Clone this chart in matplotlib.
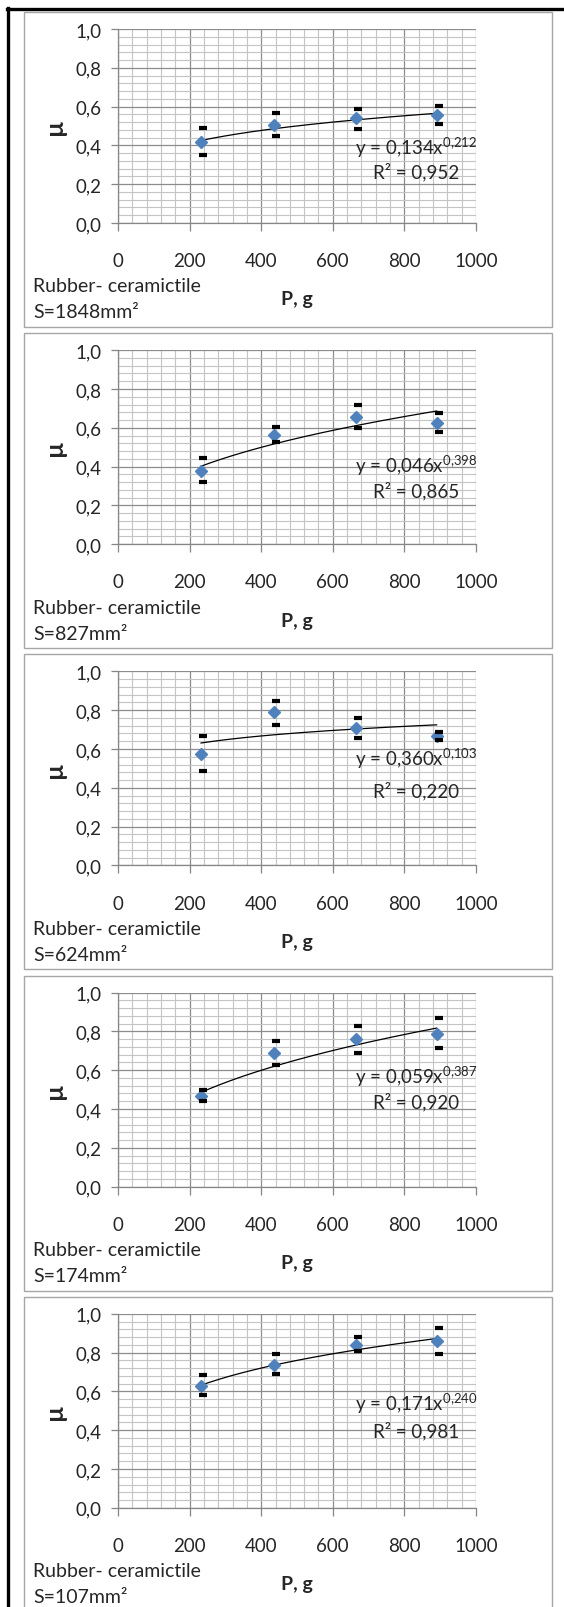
import matplotlib
matplotlib.use("Agg")
import matplotlib.pyplot as plt
from matplotlib.patches import Rectangle
from matplotlib.lines import Line2D
from matplotlib.transforms import ScaledTranslation
import numpy as np

plt.rcParams['font.family'] = ['Lato', 'DejaVu Sans']
plt.rcParams['mathtext.fontset'] = 'custom'
plt.rcParams['mathtext.rm'] = 'Lato'

# load P (g) and friction coefficient, one list per contact area
load = [232, 436, 665, 890]
areas = ['1848', '827', '624', '174', '107']
mu = [
    [0.416, 0.507, 0.540, 0.558],
    [0.377, 0.565, 0.656, 0.627],
    [0.576, 0.790, 0.707, 0.669],
    [0.467, 0.688, 0.760, 0.788],
    [0.628, 0.738, 0.840, 0.861],
]
mu_hi = [
    [0.488, 0.565, 0.589, 0.605],
    [0.442, 0.606, 0.720, 0.674],
    [0.669, 0.847, 0.759, 0.686],
    [0.497, 0.750, 0.829, 0.869],
    [0.683, 0.793, 0.878, 0.926],
]
mu_lo = [
    [0.350, 0.448, 0.486, 0.509],
    [0.321, 0.527, 0.601, 0.577],
    [0.486, 0.726, 0.657, 0.647],
    [0.441, 0.629, 0.691, 0.712],
    [0.581, 0.690, 0.806, 0.792],
]
# power trendline y = a * x^b and its R^2
fit_a = ['0,134', '0,046', '0,360', '0,059', '0,171']
fit_b = ['0,212', '0,398', '0,103', '0,387', '0,240']
fit_r2 = ['0,952', '0,865', '0,220', '0,920', '0,981']
# equation / R^2 label heights (data units)
eq_y = [0.393, 0.408, 0.555, 0.574, 0.540]
r2_y = [0.266, 0.278, 0.388, 0.440, 0.403]

W, H = 564, 1608
fig = plt.figure(figsize=(W / 100, H / 100), dpi=100)
ink = '#262626'


def fx(px):
    return px / W


def fy(py):
    return 1 - py / H


# outer black frame (left and top)
fig.add_artist(Line2D([fx(8), fx(8)], [fy(9), 0], color='black', lw=2.4))
fig.add_artist(Line2D([fx(7), 1], [fy(9.5), fy(9.5)], color='black', lw=2.4))

step = 321.2
for k in range(5):
    top = 30 + step * k
    bot = 224 + step * k
    # chart area border
    box_bot = min(bot + 104, H + 5)
    fig.add_artist(Rectangle((fx(24), fy(box_bot)), fx(552 - 24),
                             (box_bot - (top - 17)) / H,
                             transform=fig.transFigure, fill=False,
                             edgecolor='#a6a6a6', lw=1.0))

    ax = fig.add_axes([fx(118), fy(bot), fx(476 - 118), (bot - top) / H])
    ax.set_xlim(0, 1000)
    ax.set_ylim(0, 1)
    ax.set_xticks(np.arange(0, 1001, 200))
    ax.set_xticklabels([str(v) for v in range(0, 1001, 200)])
    ax.set_yticks(np.arange(0, 1.01, 0.2))
    ax.set_yticklabels(['0,0', '0,2', '0,4', '0,6', '0,8', '1,0'])
    ax.set_xticks(np.arange(0, 1001, 40), minor=True)
    ax.set_yticks(np.arange(0, 1.001, 0.04), minor=True)
    ax.grid(which='minor', color='#c4c4c4', lw=0.8)
    ax.grid(which='major', color='#8c8c8c', lw=0.9)
    ax.set_axisbelow(True)
    for s in ('top', 'right'):
        ax.spines[s].set_visible(False)
    for s in ('left', 'bottom'):
        ax.spines[s].set_color('#868686')
        ax.spines[s].set_linewidth(0.9)
    ax.tick_params(which='minor', length=0)
    ax.tick_params(axis='x', which='major', length=6, width=0.9, color='#868686',
                   pad=15, labelsize=13.5, labelcolor=ink)
    ax.tick_params(axis='y', which='major', length=5, width=0.9, color='#868686',
                   pad=7, labelsize=13.5, labelcolor=ink)

    # trendline from the fitted coefficients
    a = float(fit_a[k].replace(',', '.'))
    b = float(fit_b[k].replace(',', '.'))
    xs = np.linspace(load[0], load[-1], 200)
    ax.plot(xs, a * xs ** b, color='black', lw=0.9, zorder=3)

    ax.plot(load, mu[k], ls='none', marker='D', ms=6.5, color='#4f81bd',
            mec='#4f81bd', zorder=4)

    err = [np.array(mu[k]) - np.array(mu_lo[k]), np.array(mu_hi[k]) - np.array(mu[k])]
    shift = ScaledTranslation(2 / 100, 0, fig.dpi_scale_trans)
    ax.errorbar(load, mu[k], yerr=err, fmt='none', ecolor='black', elinewidth=0,
                capsize=2.6, capthick=3, zorder=5, transform=ax.transData + shift)

    ax.text(0.832, eq_y[k], 'y = ' + fit_a[k] + 'x$^{\\mathregular{' + fit_b[k].replace(',', '{,}') + '}}$',
            transform=ax.get_yaxis_transform(), ha='center', va='center',
            fontsize=13.5, color=ink, zorder=6)
    ax.text(0.832, r2_y[k], 'R² = ' + fit_r2[k], transform=ax.get_yaxis_transform(),
            ha='center', va='center', fontsize=13.5, color=ink, zorder=6)

    fig.text(fx(55), fy((top + bot) / 2), 'µ', rotation=90, ha='center', va='center',
             fontsize=18, fontweight='bold', color=ink)
    fig.text(fx(297), fy(bot + 76), 'P, g', ha='center', va='center',
             fontsize=14, fontweight='bold', color=ink)
    fig.text(fx(33), fy(bot + 63), 'Rubber- ceramictile', ha='left', va='center',
             fontsize=14, color=ink)
    fig.text(fx(33), fy(bot + 89), 'S=' + areas[k] + 'mm²', ha='left', va='center',
             fontsize=14, color=ink)

fig.savefig('out.png', dpi=100, facecolor='white')
